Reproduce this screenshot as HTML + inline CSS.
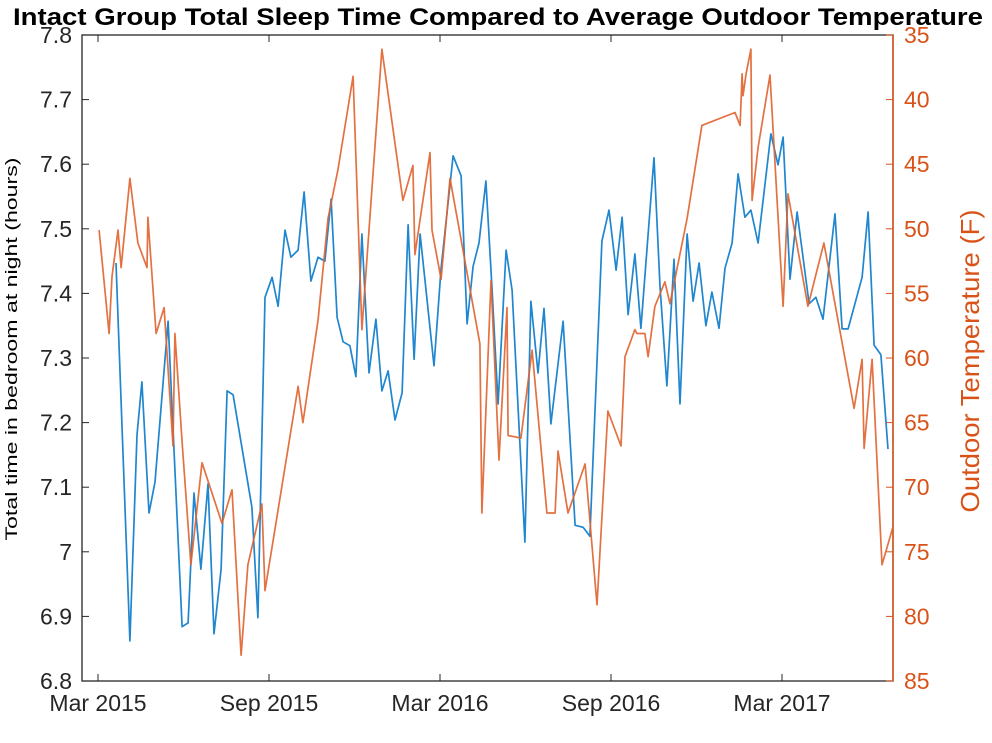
<!DOCTYPE html>
<html><head><meta charset="utf-8"><style>
html,body{margin:0;padding:0;background:#fff;}
svg{display:block;font-family:"Liberation Sans",Arial,sans-serif;}
</style></head><body>
<svg id="chart" width="992" height="743" viewBox="0 0 992 743" xmlns="http://www.w3.org/2000/svg">
<text x="498" y="25" text-anchor="middle" font-size="24" font-weight="bold" fill="#000" textLength="970" lengthAdjust="spacingAndGlyphs">Intact Group Total Sleep Time Compared to Average Outdoor Temperature</text>
<text transform="translate(17,349) rotate(-90)" text-anchor="middle" font-size="17" fill="#000" textLength="383" lengthAdjust="spacingAndGlyphs">Total time in bedroom at night (hours)</text>
<text transform="translate(979,361) rotate(-90)" text-anchor="middle" font-size="26" fill="#D95319" textLength="303" lengthAdjust="spacingAndGlyphs">Outdoor Temperature (F)</text>
<g id="axes"></g>
<g id="series"></g>
</svg>
<script>
const xTickMonths = [0, 6, 12, 18, 24];
const xTickLabels = ["Mar 2015", "Sep 2015", "Mar 2016", "Sep 2016", "Mar 2017"];
const leftTicks = [6.8, 6.9, 7.0, 7.1, 7.2, 7.3, 7.4, 7.5, 7.6, 7.7, 7.8];
const leftTickLabels = ["6.8","6.9","7","7.1","7.2","7.3","7.4","7.5","7.6","7.7","7.8"];
const rightTicks = [35, 40, 45, 50, 55, 60, 65, 70, 75, 80, 85];
const sleepMonths = [0.63,1.12,1.37,1.54,1.79,2.00,2.46,2.95,3.16,3.37,3.61,3.86,4.07,4.32,4.53,4.74,5.40,5.61,5.86,6.11,6.32,6.56,6.77,7.02,7.23,7.47,7.72,7.96,8.18,8.39,8.60,8.84,9.05,9.26,9.51,9.75,9.96,10.18,10.42,10.67,10.88,11.09,11.30,11.79,12.04,12.46,12.74,12.95,13.16,13.37,13.61,13.82,14.04,14.32,14.53,14.98,15.19,15.44,15.65,15.89,16.32,16.74,17.02,17.26,17.68,17.93,18.18,18.39,18.60,18.84,19.05,19.51,19.72,19.96,20.21,20.42,20.67,20.88,21.09,21.33,21.54,21.79,22.00,22.25,22.46,22.70,22.91,23.16,23.61,23.86,24.04,24.28,24.53,24.95,25.19,25.44,25.86,26.11,26.32,26.81,27.02,27.23,27.47,27.72];
const sleepHours = [7.447,6.862,7.181,7.263,7.060,7.108,7.357,6.884,6.890,7.091,6.973,7.105,6.873,6.973,7.249,7.243,7.069,6.898,7.394,7.425,7.380,7.498,7.456,7.467,7.557,7.419,7.456,7.450,7.546,7.363,7.325,7.319,7.271,7.492,7.277,7.360,7.249,7.280,7.204,7.246,7.506,7.298,7.492,7.288,7.439,7.613,7.582,7.353,7.442,7.478,7.574,7.411,7.229,7.467,7.405,7.015,7.388,7.277,7.377,7.198,7.357,7.041,7.038,7.024,7.481,7.529,7.436,7.518,7.367,7.461,7.346,7.610,7.411,7.257,7.453,7.229,7.492,7.388,7.447,7.350,7.402,7.346,7.439,7.478,7.585,7.518,7.529,7.478,7.647,7.599,7.642,7.422,7.526,7.384,7.394,7.360,7.523,7.345,7.345,7.425,7.526,7.320,7.305,7.159];
const tempMonths = [0.04,0.39,0.49,0.70,0.81,1.12,1.40,1.72,1.75,2.04,2.32,2.63,2.70,2.95,3.26,3.65,4.35,4.70,5.02,5.26,5.75,5.86,7.02,7.19,7.72,8.07,8.42,8.95,9.26,9.96,10.70,11.05,11.12,11.65,11.72,12.04,12.35,13.40,13.47,13.79,14.07,14.35,14.39,14.84,15.23,15.75,16.04,16.14,16.49,17.09,17.51,17.89,18.35,18.49,18.84,18.91,19.19,19.30,19.54,19.89,20.07,20.67,21.19,22.35,22.53,22.60,22.63,22.74,22.91,22.95,23.16,23.58,24.04,24.21,24.91,25.47,26.53,26.81,26.88,27.16,27.51,27.89];
const tempF = [50.1,58.1,53.7,50.1,53.0,46.1,51.1,53.0,49.1,58.1,56.1,66.8,58.1,66.5,76.0,68.1,72.8,70.2,83.0,76.0,71.3,78.0,62.2,65.0,57.1,49.2,45.4,38.2,57.8,36.1,47.8,45.1,52.0,44.1,50.1,53.9,46.1,58.9,72.0,54.0,67.9,56.1,66.0,66.2,59.4,72.0,72.0,67.2,72.0,68.2,79.1,64.1,66.8,59.9,57.8,58.1,58.1,59.9,56.0,54.1,55.8,49.2,42.0,41.0,42.0,38.0,39.7,38.0,36.1,47.8,43.7,38.1,56.0,47.3,56.0,51.1,63.9,60.1,67.0,60.1,76.0,73.1];

const L=82,R=893,T=35,B=681;
const xS = m => 98 + m*28.5;
const yL = v => B - (v-6.8)/1.0*(B-T);
const yR = t => T + (t-35)/50*(B-T);
const NS="http://www.w3.org/2000/svg";
const axes=document.getElementById('axes'), series=document.getElementById('series');
function mk(tag,attrs,parent){const e=document.createElementNS(NS,tag);for(const k in attrs)e.setAttribute(k,attrs[k]);parent.appendChild(e);return e;}

let e;
e=mk('rect',{x:L,y:T,width:R-L,height:B-T,fill:'none',stroke:'#262626','stroke-width':1.3},axes);


e=mk('line',{x1:R,y1:T,x2:R,y2:B,stroke:'#D95319','stroke-width':1.5},axes);



leftTicks.forEach((v,i)=>{
  const y=yL(v);
  let t=mk('line',{x1:L,y1:y,x2:L+7,y2:y,stroke:'#262626','stroke-width':1},axes);
  
  
  let tx=mk('text',{x:L-10,y:y+8,'text-anchor':'end','font-size':23,fill:'#262626'},axes);
  tx.textContent=leftTickLabels[i];
  
  
});
rightTicks.forEach(v=>{
  const y=yR(v);
  let t=mk('line',{x1:R-7,y1:y,x2:R,y2:y,stroke:'#D95319','stroke-width':1},axes);
  
  
  let tx=mk('text',{x:R+11,y:y+8,'text-anchor':'start','font-size':23,fill:'#D95319'},axes);
  tx.textContent=String(v);
  
  
});
xTickMonths.forEach((m,i)=>{
  const x=xS(m);
  let t=mk('line',{x1:x,y1:B,x2:x,y2:B-7,stroke:'#262626','stroke-width':1},axes);
  
  
  let t2=mk('line',{x1:x,y1:T,x2:x,y2:T+7,stroke:'#262626','stroke-width':1},axes);
  
  
  let tx=mk('text',{x:x,y:B+30,'text-anchor':'middle','font-size':23,fill:'#262626'},axes);
  tx.textContent=xTickLabels[i];
  
  
});

function pts(xs,ys,yf){return xs.map((m,i)=>xS(m).toFixed(1)+','+yf(ys[i]).toFixed(1)).join(' ');}
e=mk('polyline',{points:pts(sleepMonths,sleepHours,yL),fill:'none',stroke:'#1f86cf','stroke-width':1.7,'stroke-linejoin':'round'},series);


e=mk('polyline',{points:pts(tempMonths,tempF,yR),fill:'none',stroke:'#E0622C','stroke-width':1.7,'stroke-linejoin':'round','stroke-opacity':0.9},series);


</script>
</body></html>
